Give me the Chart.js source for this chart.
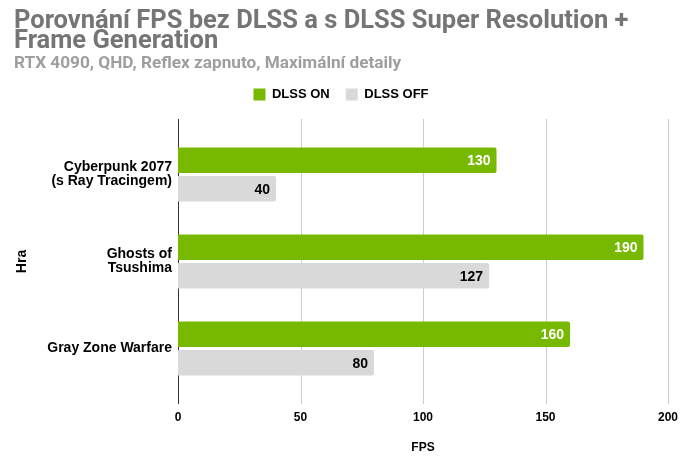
<!DOCTYPE html>
<html>
<head>
<meta charset="utf-8">
<script src="https://cdn.jsdelivr.net/npm/chart.js@4"></script>
<style>
  html, body { margin: 0; padding: 0; background: #fff; }
  #wrap { width: 690px; height: 467px; }
</style>
</head>
<body>
<div id="wrap"><canvas id="chart"></canvas></div>
<script>
const games = [["Cyberpunk 2077", "(s Ray Tracingem)"], ["Ghosts of", "Tsushima"], "Gray Zone Warfare"];
const dlssOn = [130, 190, 160];
const dlssOff = [40, 127, 80];
const xTicks = [0, 50, 100, 150, 200];

const GREEN = "#76b900";
const GREY = "#d9d9d9";
const ARIAL = "'Liberation Sans', Arial, sans-serif";

// grid lines reach a bit past the bar area, like the original
const gridPlugin = {
  id: "grid",
  beforeDatasetsDraw(chart) {
    const { ctx, chartArea, scales } = chart;
    const ext = 12;
    ctx.save();
    xTicks.forEach(v => {
      const x = Math.round(scales.x.getPixelForValue(v)) + 0.5;
      ctx.strokeStyle = v === 0 ? "#333333" : "#cccccc";
      ctx.lineWidth = 1;
      ctx.beginPath();
      ctx.moveTo(x, chartArea.top - ext);
      ctx.lineTo(x, chartArea.bottom + ext);
      ctx.stroke();
    });
    ctx.restore();
  }
};

// extra room under the legend
const legendGap = {
  id: "legendGap",
  beforeInit(chart) {
    const fit = chart.legend.fit;
    chart.legend.fit = function () {
      fit.bind(chart.legend)();
      this.height += 20;
    };
  }
};

// value labels at the end of each bar
const labelPlugin = {
  id: "labels",
  afterDatasetsDraw(chart) {
    const { ctx } = chart;
    ctx.save();
    ctx.font = "bold 14px " + ARIAL;
    ctx.textAlign = "right";
    ctx.textBaseline = "middle";
    chart.data.datasets.forEach((ds, i) => {
      chart.getDatasetMeta(i).data.forEach((bar, j) => {
        ctx.fillStyle = i === 0 ? "#ffffff" : "#000000";
        ctx.fillText(String(ds.data[j]), bar.x - 6, bar.y + 1);
      });
    });
    ctx.restore();
  }
};

new Chart(document.getElementById("chart"), {
  type: "bar",
  data: {
    labels: games,
    datasets: [
      { label: "DLSS ON", data: dlssOn, backgroundColor: GREEN, borderRadius: { topRight: 2, bottomRight: 2 }, borderSkipped: "start" },
      { label: "DLSS OFF", data: dlssOff, backgroundColor: GREY, borderRadius: { topRight: 2, bottomRight: 2 }, borderSkipped: "start" }
    ]
  },
  options: {
    indexAxis: "y",
    responsive: true,
    maintainAspectRatio: false,
    animation: false,
    layout: { padding: { left: 14, right: 22, top: 4, bottom: 12 } },
    datasets: { bar: { categoryPercentage: 0.653, barPercentage: 0.895 } },
    plugins: {
      title: {
        display: true,
        align: "start",
        text: ["Porovnání FPS bez DLSS a s DLSS Super Resolution +", "Frame Generation"],
        color: "#757575",
        font: { family: "Roboto", size: 25.5, weight: "bold", lineHeight: 0.8 },
        padding: { top: 7, bottom: 3 }
      },
      subtitle: {
        display: true,
        align: "start",
        text: "RTX 4090, QHD, Reflex zapnuto, Maximální detaily",
        color: "#9e9e9e",
        font: { family: "Roboto", size: 17.2, weight: "bold", lineHeight: 1.0 },
        padding: 0
      },
      legend: {
        position: "top",
        labels: {
          boxWidth: 12,
          boxHeight: 12,
          color: "#000",
          padding: 16,
          font: { family: ARIAL, size: 13, weight: "bold", lineHeight: 1.0 }
        }
      },
      tooltip: { enabled: false }
    },
    scales: {
      x: {
        min: 0,
        max: 200,
        afterBuildTicks: s => { s.ticks = xTicks.map(v => ({ value: v })); },
        afterFit: s => { s.height = 63; s.paddingLeft = 0; s.paddingRight = 0; },
        grid: { display: false, drawTicks: false },
        border: { display: false },
        ticks: {
          color: "#000",
          padding: 18,
          font: { family: ARIAL, size: 12, weight: "bold" }
        },
        title: {
          display: true,
          text: "FPS",
          color: "#000",
          font: { family: ARIAL, size: 12, weight: "bold" },
          padding: { top: 15, bottom: 0 }
        }
      },
      y: {
        afterFit: s => { s.width = 164; s.paddingTop = 0; s.paddingBottom = 0; },
        grid: { display: false, drawTicks: false },
        border: { display: false },
        ticks: {
          color: "#000",
          padding: 6,
          font: { family: ARIAL, size: 14, weight: "bold", lineHeight: 1.0 }
        },
        title: {
          display: true,
          text: "Hra",
          color: "#000",
          font: { family: ARIAL, size: 14, weight: "bold" },
          padding: 0
        }
      }
    }
  },
  plugins: [gridPlugin, legendGap, labelPlugin]
});
</script>
</body>
</html>
